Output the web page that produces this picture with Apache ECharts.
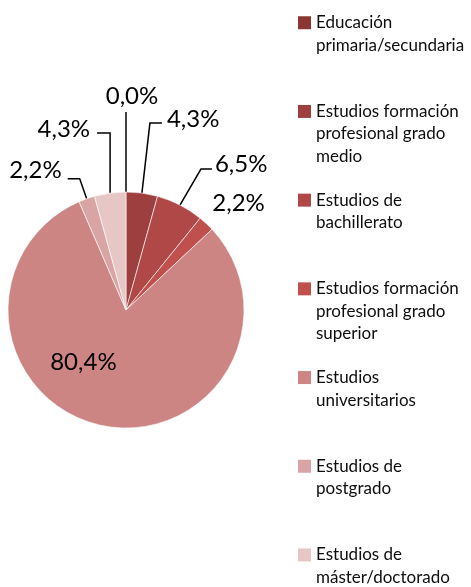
<!DOCTYPE html>
<html>
<head>
<meta charset="utf-8">
<script src="https://cdn.jsdelivr.net/npm/echarts@6/dist/echarts.min.js"></script>
<style>
  html, body { margin: 0; padding: 0; background: #fff; }
  #chart { width: 471px; height: 587px; }
</style>
</head>
<body>
<div id="chart"></div>
<script>
// categories (legend text, line breaks as in the picture)
const categories = [
  'Educación\nprimaria/secundaria',
  'Estudios formación\nprofesional grado\nmedio',
  'Estudios de\nbachillerato',
  'Estudios formación\nprofesional grado\nsuperior',
  'Estudios\nuniversitarios',
  'Estudios de\npostgrado',
  'Estudios de\nmáster/doctorado'
];
// share of each category, %
const percentages = [0.0, 4.3, 6.5, 2.2, 80.4, 2.2, 4.3];
const colors = ['#8C3634', '#9D3F3E', '#AF4847', '#C0504D', '#CD8584', '#D9A5A4', '#E6C7C6'];

// leader line / label placement, relative to the slice edge point
// [riseX, riseY, run, labelDx, labelDy, align]
const labelPlacement = [
  [0, -80, 0, 6, -16, 'center'],
  [8, -70, 12, 5, -4, 'left'],
  [21, -36, 11, 3, -5, 'left'],
  null,
  null,
  [-7, -20, -12, -6, -8, 'right'],
  [0, -60, -13, -7, -4, 'right']
];

const fontName = 'Lato';
const chart = echarts.init(document.getElementById('chart'));

const lineH = 22.5;

const seriesData = percentages.map((v, i) => {
  const item = { name: categories[i], value: v, itemStyle: { color: colors[i] } };
  if (i === 4) {
    item.label = { position: 'inside' };
    item.labelLine = { show: false };
  }
  if (i === 3) {
    item.labelLine = { show: true, lineStyle: { width: 0, opacity: 0 } };
  }
  return item;
});

// every legend entry gets the same box height so the gaps stay even
const legendData = categories.map((name) => {
  const n = name.split('\n').length;
  const pad = (3 - n) * lineH;
  return {
    name: name,
    icon: 'rect',
    textStyle: { padding: [pad, 0, pad, 0] }
  };
});

const option = {
  backgroundColor: '#fff',
  animation: false,
  legend: {
    orient: 'vertical',
    left: 298,
    top: -33.5,
    height: 800,
    padding: 0,
    itemWidth: 13,
    itemHeight: 13,
    itemGap: 88.7 - 5 * lineH,
    selectedMode: false,
    data: legendData,
    itemStyle: { borderWidth: 0 },
    // empty lines above keep the marker level with the first text line
    formatter: (name) => '\n'.repeat(name.split('\n').length - 1) + name,
    textStyle: {
      fontFamily: fontName,
      fontSize: 17,
      lineHeight: lineH,
      color: '#0d0d0d',
      backgroundColor: 'rgba(0,0,0,0)'
    }
  },
  series: [{
    type: 'pie',
    center: [126, 310],
    radius: 118,
    startAngle: 90,
    clockwise: true,
    avoidLabelOverlap: false,
    data: seriesData,
    itemStyle: { borderColor: '#fff', borderWidth: 0.6 },
    label: {
      show: true,
      position: 'outside',
      fontFamily: fontName,
      fontSize: 24,
      color: '#000',
      formatter: (p) => p.value.toFixed(1).replace('.', ',') + '%'
    },
    labelLine: {
      show: true,
      length: 10,
      length2: 10,
      smooth: false,
      lineStyle: { color: '#000', width: 1.5 }
    },
    emphasis: { disabled: true },
    labelLayout: function (params) {
      const i = params.dataIndex;
      if (i === 4) {
        return { dx: -30, dy: -8 };
      }
      const pts = params.labelLinePoints;
      if (!pts) return {};
      const p0 = pts[0];
      if (i === 3) {
        return {
          x: p0[0] + 6, y: p0[1] - 20,
          align: 'left', verticalAlign: 'middle',
          labelLinePoints: [p0, p0, p0]
        };
      }
      const c = labelPlacement[i];
      const elbow = [p0[0] + c[0], p0[1] + c[1]];
      const end = [elbow[0] + c[2], elbow[1]];
      return {
        x: end[0] + c[3],
        y: end[1] + c[4],
        align: c[5],
        verticalAlign: 'middle',
        labelLinePoints: [p0, elbow, end]
      };
    }
  }]
};

chart.setOption(option);
</script>
</body>
</html>
